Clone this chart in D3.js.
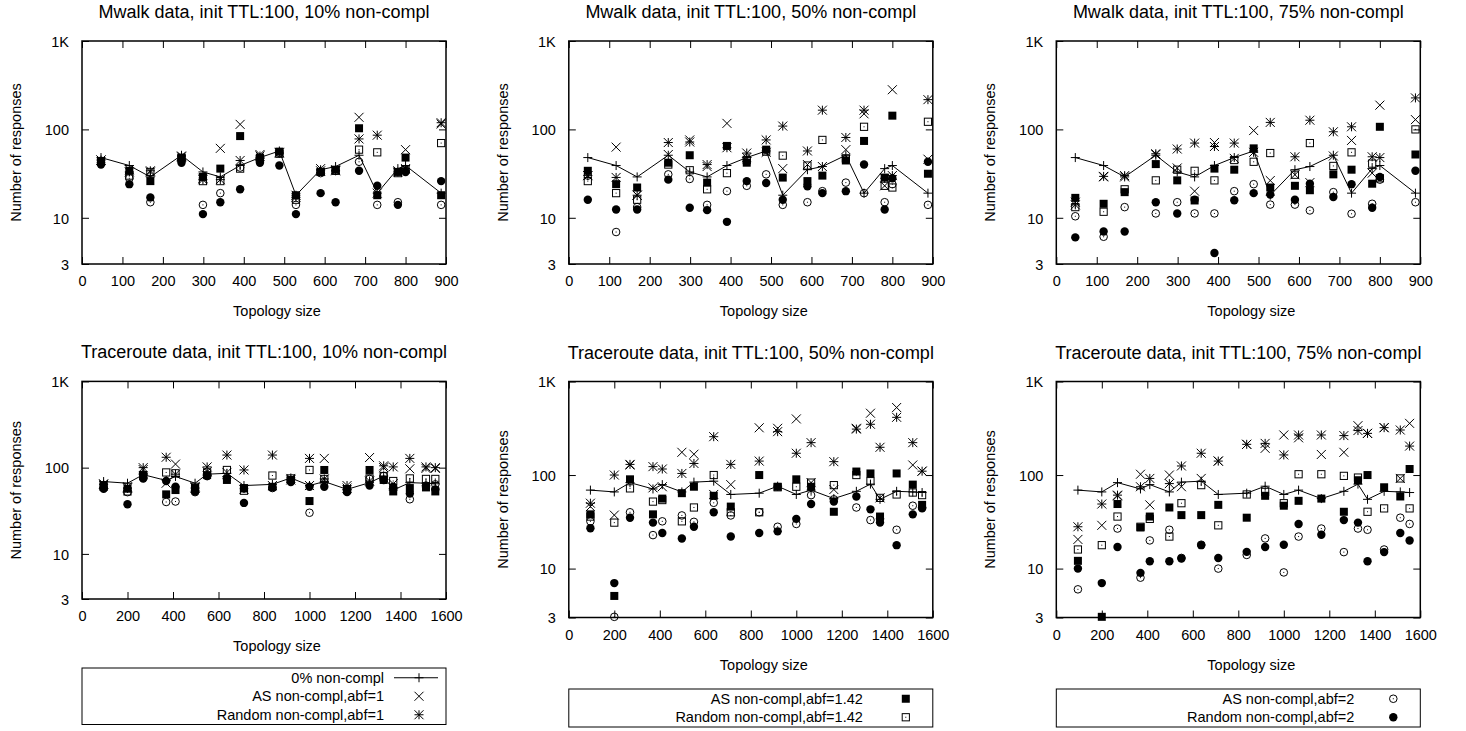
<!DOCTYPE html>
<html><head><meta charset="utf-8">
<script src="https://cdn.jsdelivr.net/npm/d3@7"></script>
<style>
body{margin:0;background:#fff}
svg text{font-family:"Liberation Sans",Arial,Helvetica,sans-serif;font-size:14.5px;fill:#000}
svg text.ptitle{font-size:18px}
</style></head><body>
<svg id="chart" width="1466" height="731"></svg>
<script>
// Topology sizes (x values)
const mwalkSizes = [47, 117, 169, 246, 299, 342, 391, 440, 488, 529, 590, 627, 685, 730, 781, 800, 888];
const traceSizes = [95, 200, 269, 370, 411, 497, 550, 637, 712, 837, 918, 1000, 1065, 1165, 1264, 1326, 1368, 1441, 1512, 1553];

// 0% non-compliant baseline
const mwalkBase = [48, 39, 29, 51, 33, 29, 39, 48, 57, 18, 35, 38, 51, 19, 36, 39, 19];
const traceBase = [69, 66, 83, 71, 79, 66, 84, 86, 62, 64, 76, 62, 69, 56, 67, 80, 55, 67, 66, 65];

// Mwalk, 10% non-compl
const mw10As1    = [45, 35, 33, 50, 28, 61, 114, 52, 55, 18, 36, 35, 137, 19, 34, 59, 115];
const mw10Rnd1   = [45, 33, 34, 49, 27, 27, 44.5, 50, 54, 17, 34, 34, 78, 86, 33, 36, 119];
const mw10As142  = [44, 34, 26, 48, 29, 36, 84, 48, 56, 18, 33, 35, 103, 18, 33, 48, 18];
const mw10Rnd142 = [43, 30, 33, 47, 26, 26, 36, 47, 53, 16, 33, 34, 59, 55, 32, 35, 70];
const mw10As2    = [42, 28, 15, 45, 14, 19, 37, 44, 54, 14, 32, 34, 43, 14, 15, 34, 14];
const mw10Rnd2   = [40, 24, 17, 42, 11, 15, 21, 42, 39, 11, 19, 15, 34, 23, 14, 33, 26];

// Mwalk, 50% non-compl
const mw50As1    = [30, 63, 18, 52, 76, 38, 117, 48, 55, 36, 40, 38, 59, 150, 23, 281, 46];
const mw50Rnd1   = [30, 28.6, 18, 71, 72, 40, 62, 54, 76, 109, 57, 165, 81, 165, 28, 30, 217];
const mw50As142  = [34, 24, 22, 42, 51, 25, 65, 42, 59, 28.5, 26, 30, 44.5, 74, 28.5, 143, 31.5];
const mw50Rnd142 = [26, 19, 16, 40, 34.5, 21, 32, 45, 56, 50.5, 39, 76, 47, 107, 23, 22, 122];
const mw50As2    = [30, 6.9, 13.2, 31, 27.5, 14, 20, 23, 31, 14, 15, 20, 25, 19, 15, 24, 14];
const mw50Rnd2   = [16, 12.4, 12.4, 27, 13, 12.2, 9, 26, 24.7, 16, 22.7, 19, 20, 40, 12.4, 28, 43];

// Mwalk, 75% non-compl
const mw75As1    = [15, 29, 29, 52, 36.6, 20, 71, 47, 97, 26.4, 30.7, 25, 50, 75, 32, 188, 129];
const mw75Rnd1   = [14, 29.4, 30, 53, 60, 70, 64, 70, 55, 120, 49, 127, 94, 107, 49, 48, 227];
const mw75As142  = [16.8, 14.4, 19.5, 40.5, 26.5, 15.7, 36, 35, 61, 22, 23, 20.5, 31, 35, 24.3, 107, 52];
const mw75Rnd142 = [13.2, 11.7, 21, 26.5, 35, 34, 26.5, 45, 43, 54, 30.7, 70, 38.6, 55, 41, 28, 100];
const mw75As2    = [10.4, 6.1, 13.2, 11.2, 15, 11.2, 11.2, 20, 24, 14.1, 14.1, 12.1, 19.5, 11.1, 14.4, 27, 15];
const mw75Rnd2   = [6.0, 7.0, 7.0, 15, 11.2, 16, 4.0, 15.8, 19, 18.3, 16, 24.3, 17.2, 24, 13, 29, 34];

// Traceroute, 10% non-compl
const tr10As1    = [65, 60, 95, 66, 110, 60, 90, 88, 56, 62, 75, 62, 128, 58, 131, 100, 65, 97, 98, 98];
const tr10Rnd1   = [64, 58, 100, 132, 84, 58, 102, 140, 94, 140, 72, 128, 74, 62, 70, 105, 102, 128, 102, 100];
const tr10As142  = [62, 57, 80, 49, 55, 58, 82, 72, 58, 60, 72, 41, 94, 55, 94, 72, 53, 58, 59, 53];
const tr10Rnd142 = [60, 53, 82, 88, 86, 57, 88, 94, 54, 81, 75, 94, 74, 56, 75, 80, 70, 75, 74, 74];
const tr10As2    = [58, 52, 76, 40, 40.5, 52, 80, 75, 57, 58, 70, 30, 68, 54, 74, 80, 58, 43, 62, 64];
const tr10Rnd2   = [57, 37.6, 75, 70, 60, 53, 80, 75, 39, 59, 68, 60, 60, 52, 62, 72, 60, 50, 60, 56];

// Traceroute, 50% non-compl
const tr50As1    = [46, 37.3, 128, 73, 75, 175, 167, 62, 79, 320, 316, 398, 83, 70, 316, 458, 57, 527, 128, 110];
const tr50Rnd1   = [50, 100, 130, 123, 116, 104, 133, 257, 130, 141, 291, 171, 222, 139, 310, 349, 198, 414, 222, 110];
const tr50As142  = [38, 5.1, 90, 38, 56, 64, 75, 60, 46, 100, 75, 90, 75, 40.5, 109, 104, 36, 104, 79, 48];
const tr50Rnd142 = [36, 31, 72, 52, 54, 32, 45, 100, 40, 40, 74, 75, 83, 78, 100, 86, 57, 62, 65, 61];
const tr50As2    = [32, 3.05, 40, 22.8, 32, 37, 31.6, 50.5, 37, 40, 28, 30, 61, 55, 45, 33, 34, 26, 47, 45];
const tr50Rnd2   = [27, 7.0, 35, 31, 24, 21, 28, 40, 22, 24, 25, 34, 49, 52, 59, 43, 31, 17.8, 38, 44];

// Traceroute, 75% non-compl
const tr75As1    = [20.5, 29, 60, 102, 48, 100, 75, 92, 141, 213, 193, 268, 250, 166, 175, 337, 279, 321, 92, 357];
const tr75Rnd1   = [28, 49, 61, 75, 92, 81, 125, 171, 141, 213, 218, 164, 268, 268, 264, 299, 279, 321, 303, 204];
const tr75As142  = [12.1, 3.05, 49, 27.5, 36, 45, 37.3, 37.3, 48, 35, 60, 47, 53, 56, 40.5, 88, 100, 74, 59, 116];
const tr75Rnd142 = [16, 17.8, 36, 28, 34, 22, 50, 78, 29, 62, 66, 50, 102, 102, 98, 94, 40.5, 44, 92, 44];
const tr75As2    = [6.0, null, 26.8, 8.0, 20, 26, 13, 18, 10, 14, 21, 9.1, 22, 26.8, 15, 26.8, 26, 16, 35, 30];
const tr75Rnd2   = [10, 7.0, 17, 9.0, 12, 12, 12.8, 17.8, 13, 15.1, 17, 18, 30, 23, 33, 31, 12, 15, 24, 20];

const yTicks = [3, 10, 100, 1000];
const yTickLabels = ["3", "10", "100", "1K"];
const seriesNames = ["0% non-compl", "AS non-compl,abf=1", "Random non-compl,abf=1",
  "AS non-compl,abf=1.42", "Random non-compl,abf=1.42", "AS non-compl,abf=2", "Random non-compl,abf=2"];
const symbols = ["plus", "cross", "star", "fsq", "osq", "ocirc", "fcirc"];

const panels = [
  {title: "Mwalk data, init TTL:100, 10% non-compl", sizes: mwalkSizes, xMax: 900, xStep: 100,
   series: [mwalkBase, mw10As1, mw10Rnd1, mw10As142, mw10Rnd142, mw10As2, mw10Rnd2],
   left: 82, top: 41, w: 364, h: 223, legend: null},
  {title: "Mwalk data, init TTL:100, 50% non-compl", sizes: mwalkSizes, xMax: 900, xStep: 100,
   series: [mwalkBase, mw50As1, mw50Rnd1, mw50As142, mw50Rnd142, mw50As2, mw50Rnd2],
   left: 568.8, top: 41, w: 364, h: 223, legend: null},
  {title: "Mwalk data, init TTL:100, 75% non-compl", sizes: mwalkSizes, xMax: 900, xStep: 100,
   series: [mwalkBase, mw75As1, mw75Rnd1, mw75As142, mw75Rnd142, mw75As2, mw75Rnd2],
   left: 1056.3, top: 41, w: 364, h: 223, legend: null},
  {title: "Traceroute data, init TTL:100, 10% non-compl", sizes: traceSizes, xMax: 1600, xStep: 200,
   series: [traceBase, tr10As1, tr10Rnd1, tr10As142, tr10Rnd142, tr10As2, tr10Rnd2],
   left: 82, top: 381.4, w: 364, h: 217.6, legend: {items: [0, 1, 2], top: 668, textOff: 62}},
  {title: "Traceroute data, init TTL:100, 50% non-compl", sizes: traceSizes, xMax: 1600, xStep: 200,
   series: [traceBase, tr50As1, tr50Rnd1, tr50As142, tr50Rnd142, tr50As2, tr50Rnd2],
   left: 568.8, top: 381.5, w: 364, h: 236, legend: {items: [3, 4], top: 689, textOff: 70}},
  {title: "Traceroute data, init TTL:100, 75% non-compl", sizes: traceSizes, xMax: 1600, xStep: 200,
   series: [traceBase, tr75As1, tr75Rnd1, tr75As142, tr75Rnd142, tr75As2, tr75Rnd2],
   left: 1056.3, top: 381.5, w: 364, h: 236, legend: {items: [5, 6], top: 689, textOff: 66}}
];

const svg = d3.select("#chart");
svg.append("rect").attr("width", 1466).attr("height", 731).attr("fill", "#fff");

const S = 4.5; // symbol half-size

function drawSymbol(g, type, cx, cy) {
  const t = `translate(${cx},${cy})`;
  const ln = {stroke: "#000", "stroke-width": 1, fill: "none"};
  const put = (sel, attrs) => { for (const k in attrs) sel.attr(k, attrs[k]); return sel; };
  if (type === "plus") {
    put(g.append("path").attr("d", `M${-S},0H${S}M0,${-S}V${S}`).attr("transform", t), ln);
  } else if (type === "cross") {
    put(g.append("path").attr("d", `M${-S},${-S}L${S},${S}M${-S},${S}L${S},${-S}`).attr("transform", t), ln);
  } else if (type === "star") {
    put(g.append("path").attr("d", `M${-S},0H${S}M0,${-S}V${S}M${-S},${-S}L${S},${S}M${-S},${S}L${S},${-S}`).attr("transform", t), ln);
  } else if (type === "fsq") {
    g.append("rect").attr("x", cx - 4).attr("y", cy - 4).attr("width", 8).attr("height", 8).attr("fill", "#000");
  } else if (type === "osq") {
    put(g.append("rect").attr("x", cx - 3.6).attr("y", cy - 3.6).attr("width", 7.2).attr("height", 7.2), ln);
    g.append("rect").attr("x", cx - 0.5).attr("y", cy - 0.5).attr("width", 1).attr("height", 1).attr("fill", "#000");
  } else if (type === "ocirc") {
    put(g.append("circle").attr("cx", cx).attr("cy", cy).attr("r", 3.8), ln);
    g.append("rect").attr("x", cx - 0.5).attr("y", cy - 0.5).attr("width", 1).attr("height", 1).attr("fill", "#000");
  } else if (type === "fcirc") {
    g.append("circle").attr("cx", cx).attr("cy", cy).attr("r", 4.2).attr("fill", "#000");
  }
}

panels.forEach(p => {
  const g = svg.append("g");
  const x = d3.scaleLinear().domain([0, p.xMax]).range([p.left, p.left + p.w]);
  const y = d3.scaleLog().domain([3, 1000]).range([p.top + p.h, p.top]);
  const xTickVals = d3.range(0, p.xMax + 1, p.xStep);
  const tk = 7;

  // Axes with inward ticks, mirrored on the opposite sides
  const axB = g.append("g").attr("transform", `translate(0,${p.top + p.h})`)
    .call(d3.axisBottom(x).tickValues(xTickVals).tickSize(-tk).tickPadding(12).tickFormat(d3.format("d")));
  const axT = g.append("g").attr("transform", `translate(0,${p.top})`)
    .call(d3.axisTop(x).tickValues(xTickVals).tickSize(-tk).tickFormat(""));
  const axL = g.append("g").attr("transform", `translate(${p.left},0)`)
    .call(d3.axisLeft(y).tickValues(yTicks).tickSize(-tk).tickPadding(13).tickFormat(d => yTickLabels[yTicks.indexOf(d)]));
  const axR = g.append("g").attr("transform", `translate(${p.left + p.w},0)`)
    .call(d3.axisRight(y).tickValues(yTicks).tickSize(-tk).tickFormat(""));
  [axB, axT, axL, axR].forEach(a => {
    a.select(".domain").remove();
    a.selectAll(".tick line").attr("stroke", "#000").attr("stroke-width", 1);
    a.selectAll("text").attr("font-size", null).attr("font-family", null).attr("fill", "#000");
  });
  axB.selectAll("text").attr("dy", "0.71em");
  axL.selectAll("text").attr("dy", "0.36em");

  // Frame
  g.append("rect").attr("x", p.left).attr("y", p.top).attr("width", p.w).attr("height", p.h)
    .attr("fill", "none").attr("stroke", "#000").attr("stroke-width", 1.5);

  // Titles and axis labels
  g.append("text").attr("class", "ptitle").attr("x", p.left + p.w / 2).attr("y", p.top - 29)
    .attr("text-anchor", "middle").attr("dominant-baseline", "central").text(p.title);
  g.append("text").attr("x", p.left + p.w / 2 + 13).attr("y", p.top + p.h + 47).attr("text-anchor", "middle")
    .attr("dominant-baseline", "central").text("Topology size");
  g.append("text").attr("transform", `translate(${p.left - 66},${p.top + p.h / 2}) rotate(-90)`)
    .attr("text-anchor", "middle").attr("dominant-baseline", "central").text("Number of responses");

  // Series: baseline drawn as line + points, the rest as points
  const marks = g.append("g");
  p.series.forEach((vals, si) => {
    const pts = p.sizes.map((s, i) => [s, vals[i]]).filter(d => d[1] != null);
    if (si === 0) {
      marks.append("path").datum(pts)
        .attr("d", d3.line().x(d => x(d[0])).y(d => y(d[1])))
        .attr("fill", "none").attr("stroke", "#000").attr("stroke-width", 1);
    }
    pts.forEach(d => drawSymbol(marks, symbols[si], x(d[0]), y(d[1])));
  });

  // Legend box below the plot
  if (p.legend) {
    const rowH = 18.5;
    const n = p.legend.items.length;
    const lt = p.legend.top;
    const right = p.left + p.w;
    const lg = g.append("g");
    lg.append("rect").attr("x", p.left).attr("y", lt).attr("width", p.w).attr("height", n * rowH + 1)
      .attr("fill", "none").attr("stroke", "#000").attr("stroke-width", 1);
    p.legend.items.forEach((si, k) => {
      const cy = lt + rowH / 2 + 0.5 + k * rowH;
      lg.append("text").attr("x", right - p.legend.textOff).attr("y", cy).attr("text-anchor", "end")
        .attr("dominant-baseline", "central").text(seriesNames[si]);
      if (si === 0) {
        lg.append("line").attr("x1", right - 52).attr("x2", right - 8).attr("y1", cy).attr("y2", cy)
          .attr("stroke", "#000").attr("stroke-width", 1);
      }
      drawSymbol(lg, symbols[si], right - 27, cy);
    });
  }
});
</script>
</body></html>
